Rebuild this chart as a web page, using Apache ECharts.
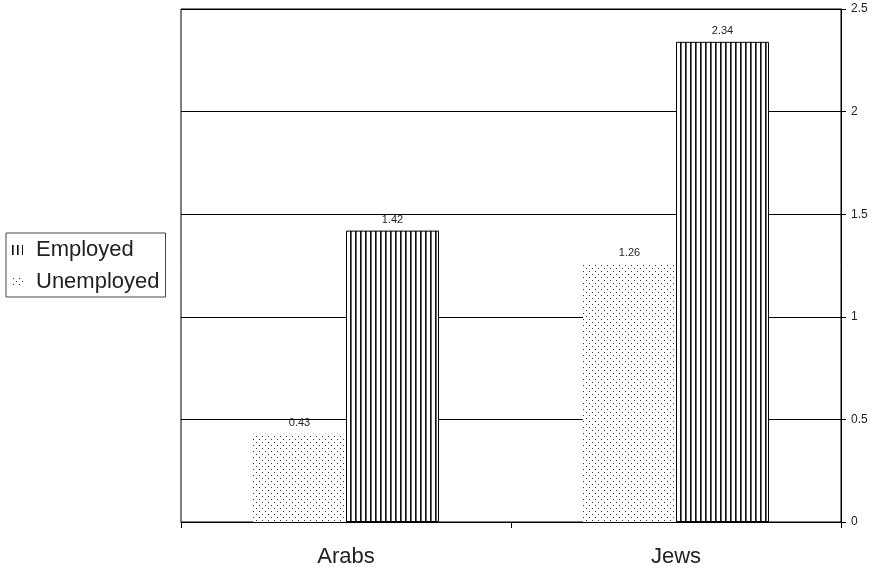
<!DOCTYPE html>
<html><head><meta charset="utf-8">
<script src="https://cdn.jsdelivr.net/npm/echarts@6/dist/echarts.min.js"></script>
<style>html,body{margin:0;padding:0;background:#fff}#c{width:874px;height:569px}</style>
</head><body><div id="c"></div>
<script>
const categories = ['Arabs', 'Jews'];
const unemployed = [0.43, 1.26];
const employed = [1.42, 2.34];
const yTicks = [0, 0.5, 1, 1.5, 2, 2.5];

function stripePattern() {
  const c = document.createElement('canvas');
  c.width = 5; c.height = 5;
  const x = c.getContext('2d');
  x.fillStyle = '#fff'; x.fillRect(0, 0, 5, 5);
  x.fillStyle = '#111'; x.fillRect(0, 0, 1, 5);
  x.fillStyle = '#666'; x.fillRect(1, 0, 1, 5);
  return c;
}
function dotPattern() {
  const c = document.createElement('canvas');
  c.width = 6; c.height = 6;
  const x = c.getContext('2d');
  x.fillStyle = '#fff'; x.fillRect(0, 0, 6, 6);
  x.fillStyle = '#333';
  x.fillRect(1, 1, 1, 1);
  x.fillRect(4, 4, 1, 1);
  return c;
}

const chart = echarts.init(document.getElementById('c'));
chart.setOption({
  animation: false,
  textStyle: { fontFamily: 'Liberation Sans, Arial, sans-serif' },
  grid: { left: 181, right: 33, top: 9, bottom: 47, show: true, borderColor: '#000', borderWidth: 1 },
  legend: {
    orient: 'vertical', left: 6, top: 233,
    data: ['Employed', 'Unemployed'],
    borderColor: '#444', borderWidth: 1, padding: [6, 6, 4, 6],
    itemWidth: 11, itemHeight: 10, itemGap: 10, icon: 'rect',
    itemStyle: { borderWidth: 0 },
    textStyle: { fontSize: 22, color: '#222', padding: [0, 0, 0, 8] }
  },
  xAxis: {
    type: 'category', data: categories,
    axisLine: { lineStyle: { color: '#000' } },
    axisTick: { show: true, inside: false, length: 6, lineStyle: { color: '#000' } },
    axisLabel: { fontSize: 22, color: '#222', margin: 24 }
  },
  yAxis: {
    type: 'value', position: 'right', min: 0, max: 2.5, interval: 0.5,
    axisLine: { show: true, lineStyle: { color: '#000' } },
    axisTick: { show: true, length: 5, lineStyle: { color: '#000' } },
    axisLabel: { fontSize: 12, color: '#222', margin: 10,
      formatter: v => yTicks.includes(v) ? String(v) : '' },
    splitLine: { lineStyle: { color: '#000', width: 1 } }
  },
  series: [
    {
      name: 'Unemployed', type: 'bar', data: unemployed,
      barWidth: 93, barGap: '0%',
      itemStyle: { color: { image: dotPattern(), repeat: 'repeat' } },
      label: { show: true, position: 'top', distance: 5, fontSize: 11, color: '#222' }
    },
    {
      name: 'Employed', type: 'bar', data: employed,
      barWidth: 93,
      itemStyle: { color: { image: stripePattern(), repeat: 'repeat' }, borderColor: '#000', borderWidth: 1 },
      label: { show: true, position: 'top', distance: 5, fontSize: 11, color: '#222' }
    }
  ]
});
</script></body></html>
